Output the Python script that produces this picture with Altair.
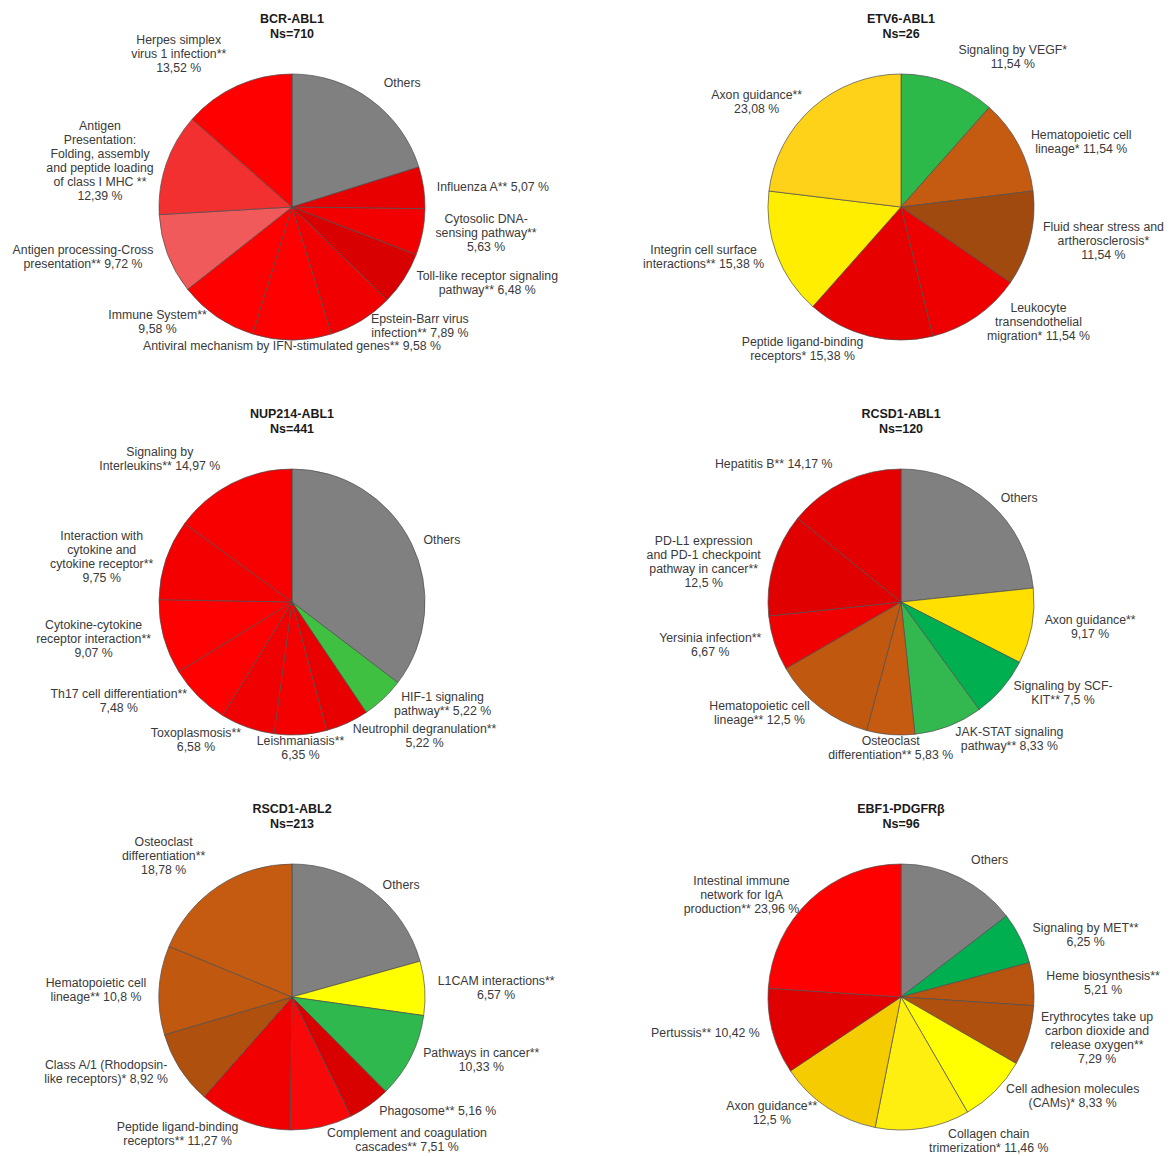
import math
import altair as alt
import pandas as pd

FONT = "Liberation Sans"

# ---------------- data ----------------
titles = ["BCR-ABL1", "ETV6-ABL1", "NUP214-ABL1", "RCSD1-ABL1", "RSCD1-ABL2", "EBF1-PDGFRβ"]
ns_labels = ["Ns=710", "Ns=26", "Ns=441", "Ns=120", "Ns=213", "Ns=96"]

bcr_names = [
    "Others",
    "Influenza A** {}",
    "Cytosolic DNA-\nsensing pathway**\n{}",
    "Toll-like receptor signaling\npathway** {}",
    "Epstein-Barr virus\ninfection** {}",
    "Antiviral mechanism by IFN-stimulated genes** {}",
    "Immune System**\n{}",
    "Antigen  processing-Cross\npresentation** {}",
    "Antigen\nPresentation:\nFolding, assembly\nand peptide loading\nof class I MHC **\n{}",
    "Herpes simplex\nvirus 1 infection**\n{}",
]
bcr_values = [20.14, 5.07, 5.63, 6.48, 7.89, 9.58, 9.58, 9.72, 12.39, 13.52]

etv_names = [
    "Signaling by VEGF*\n{}",
    "Hematopoietic cell\nlineage* {}",
    "Fluid shear stress and\nartherosclerosis*\n{}",
    "Leukocyte\ntransendothelial\nmigration* {}",
    "Peptide ligand-binding\nreceptors* {}",
    "Integrin cell surface\ninteractions** {}",
    "Axon guidance**\n{}",
]
etv_values = [11.54, 11.54, 11.54, 11.54, 15.38, 15.38, 23.08]

nup_names = [
    "Others",
    "HIF-1 signaling\npathway** {}",
    "Neutrophil degranulation**\n{}",
    "Leishmaniasis**\n{}",
    "Toxoplasmosis**\n{}",
    "Th17 cell differentiation**\n{}",
    "Cytokine-cytokine\nreceptor interaction**\n{}",
    "Interaction with\ncytokine and\ncytokine receptor**\n{}",
    "Signaling by\nInterleukins** {}",
]
nup_values = [35.36, 5.22, 5.22, 6.35, 6.58, 7.48, 9.07, 9.75, 14.97]

rcsd_names = [
    "Others",
    "Axon guidance**\n{}",
    "Signaling by SCF-\nKIT** {}",
    "JAK-STAT signaling\npathway** {}",
    "Osteoclast\ndifferentiation** {}",
    "Hematopoietic cell\nlineage** {}",
    "Yersinia infection**\n{}",
    "PD-L1 expression\nand PD-1 checkpoint\npathway in cancer**\n{}",
    "Hepatitis B** {}",
]
rcsd_values = [23.33, 9.17, 7.5, 8.33, 5.83, 12.5, 6.67, 12.5, 14.17]

rscd_names = [
    "Others",
    "L1CAM interactions**\n{}",
    "Pathways in cancer**\n{}",
    "Phagosome** {}",
    "Complement and coagulation\ncascades** {}",
    "Peptide ligand-binding\nreceptors** {}",
    "Class A/1 (Rhodopsin-\nlike receptors)* {}",
    "Hematopoietic cell\nlineage** {}",
    "Osteoclast\ndifferentiation**\n{}",
]
rscd_values = [20.66, 6.57, 10.33, 5.16, 7.51, 11.27, 8.92, 10.8, 18.78]

ebf_names = [
    "Others",
    "Signaling by MET**\n{}",
    "Heme biosynthesis**\n{}",
    "Erythrocytes take up\ncarbon dioxide and\nrelease oxygen**\n{}",
    "Cell adhesion molecules\n(CAMs)* {}",
    "Collagen chain\ntrimerization* {}",
    "Axon guidance**\n{}",
    "Pertussis** {}",
    "Intestinal immune\nnetwork for IgA\nproduction** {}",
]
ebf_values = [14.58, 6.25, 5.21, 7.29, 8.33, 11.46, 12.5, 10.42, 23.96]

# ---------------- styles ----------------
GREY = "#808080"
bcr_colors = [GREY, "#E80000", "#F20000", "#D80000", "#F00000", "#FF0000", "#FF0000",
              "#F05A5A", "#F23030", "#FF0000"]
etv_colors = ["#2DB84A", "#C55A11", "#A04A10", "#EE0000", "#E60000", "#FFEE00", "#FFD21A"]
nup_colors = [GREY, "#40C040", "#E80000", "#F50000", "#F00000", "#FF0000", "#FF0000",
              "#F40000", "#F80000"]
rcsd_colors = [GREY, "#FFE000", "#00B050", "#33B84F", "#C55A11", "#C0580F", "#F00000",
               "#E00000", "#E50000"]
rscd_colors = [GREY, "#FFFF00", "#2EB84E", "#D90000", "#F80808", "#F00000", "#B0500F",
               "#C05810", "#C55A11"]
ebf_colors = [GREY, "#00B050", "#B8540F", "#B0500E", "#FFFF00", "#FFEF10", "#F5CC00",
              "#E00000", "#FF0000"]

W, H = 530, 352
R_PIE = 133
LH = 14
FS = 12.3
DX = 6
RADIUS = {"middle": 140, "bottom": 145, "top": 132}

# Arial / Liberation Sans advance widths (per 1000 em), used to centre wrapped labels
_AW = {" ": 278, "*": 389, ",": 278, "-": 333, ".": 278, "%": 889, "(": 333, ")": 333,
       "/": 278, ":": 278}
_AW.update({d: 556 for d in "0123456789"})
_AW.update(dict(zip("ABCDEFGHIJKLMNOPQRSTUVWXYZ",
                    [667, 667, 722, 722, 667, 611, 778, 722, 278, 500, 667, 556, 833, 722,
                     778, 667, 778, 722, 667, 611, 722, 667, 944, 667, 667, 611])))
_AW.update(dict(zip("abcdefghijklmnopqrstuvwxyz",
                    [556, 556, 500, 556, 556, 278, 556, 556, 222, 222, 500, 222, 833, 556,
                     556, 556, 556, 333, 500, 278, 556, 500, 722, 500, 500, 500])))


def text_width(line):
    return sum(_AW.get(ch, 556) for ch in line) * FS / 1000.0


def fmt(v):
    return f"{v:g}".replace(".", ",") + " %"


def panel(title, ns, names, values, colors):
    labels = [n.format(fmt(v)) if "{}" in n else n for n, v in zip(names, values)]
    df = pd.DataFrame({"idx": list(range(len(values))), "label": labels, "value": values})
    base = alt.Chart(df).encode(
        theta=alt.Theta("value:Q", stack=True),
        order=alt.Order("idx:Q"),
        detail="idx:N",
    )
    arc = base.mark_arc(outerRadius=R_PIE, stroke="#4d4d4d", strokeWidth=0.7).encode(
        color=alt.Color("idx:N", scale=alt.Scale(domain=list(range(len(values))), range=colors),
                        legend=None)
    )
    layers = [arc]
    total = sum(values)
    cum = 0.0
    for i, (lab, v) in enumerate(zip(labels, values)):
        frac = (cum + v / 2) / total
        cum += v
        s, c = math.sin(2 * math.pi * frac), math.cos(2 * math.pi * frac)
        lines = lab.split("\n")
        n = len(lines)
        w = max(text_width(ln) for ln in lines)
        if s > 0.15:
            dx = DX + w / 2
        elif s < -0.15:
            dx = -DX - w / 2
        else:
            dx = 0
        if c > 0.8:
            bl = "bottom"
            dy = -LH / 2 - (n - 1) * LH
        elif c < -0.86:
            bl = "top"
            dy = LH / 2
        else:
            bl = "middle"
            dy = -(n - 1) * LH / 2
        t = (
            base.transform_calculate(t=f"datum.idx == {i} ? datum.label : ''")
            .mark_text(radius=RADIUS[bl], align="center", baseline="middle", lineBreak="\n",
                       font=FONT, fontSize=FS, lineHeight=LH, color="#3a3a3a", dx=dx, dy=dy)
            .encode(text="t:N")
        )
        layers.append(t)
    return alt.layer(*layers).properties(
        width=W, height=H,
        title=alt.TitleParams(text=[title, ns], font=FONT, fontSize=12.5, fontWeight="bold",
                              color="#1a1a1a", anchor="middle", lineHeight=15, offset=-9,
                              frame="group"),
    )


all_names = [bcr_names, etv_names, nup_names, rcsd_names, rscd_names, ebf_names]
all_values = [bcr_values, etv_values, nup_values, rcsd_values, rscd_values, ebf_values]
all_colors = [bcr_colors, etv_colors, nup_colors, rcsd_colors, rscd_colors, ebf_colors]

panels = [panel(t, n, nm, v, c) for t, n, nm, v, c in
          zip(titles, ns_labels, all_names, all_values, all_colors)]

chart = (
    alt.concat(*panels, columns=2, spacing={"row": 43, "column": 79}, bounds="flush")
    .resolve_scale(theta="independent", color="independent")
    .properties(padding={"left": 10, "top": 12, "right": 0, "bottom": 0})
    .configure_view(stroke=None)
)

chart.save("out.html", embed_options={"renderer": "svg", "actions": False})
